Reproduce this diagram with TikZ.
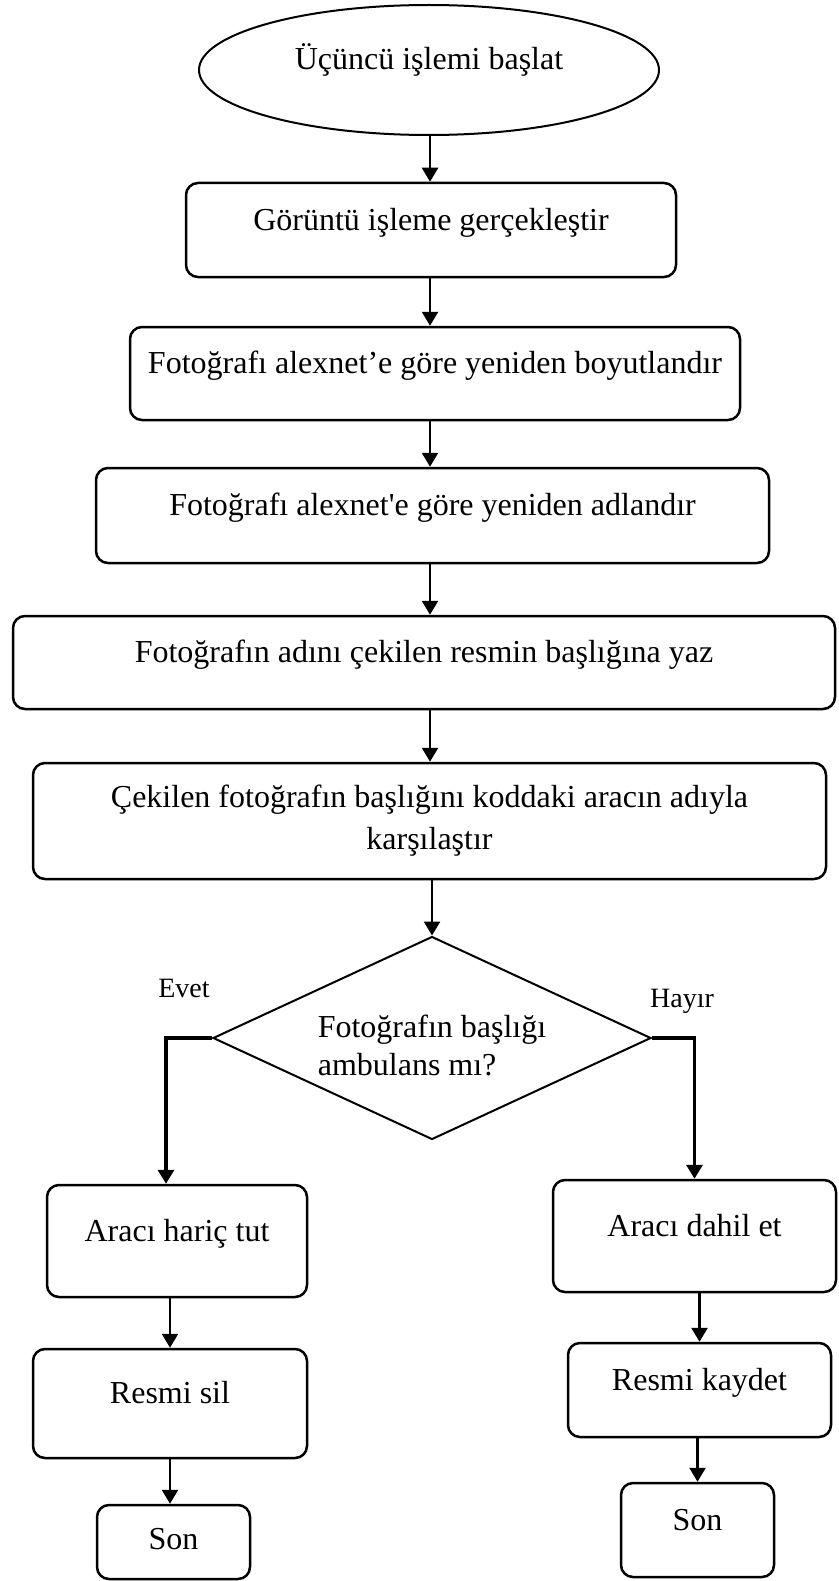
\documentclass[tikz,border=0pt]{standalone}
\usepackage{fontspec}
\setmainfont{Liberation Serif}
\usetikzlibrary{arrows.meta,shapes.geometric}

\begin{document}
\begin{tikzpicture}[x=1pt, y=-1pt, >={Triangle[width=16pt,length=14pt]},
  proc/.style={draw, line width=2.5pt, rounded corners=12pt, inner sep=0pt,
    font=\fontsize{32}{42}\selectfont, text height=24pt, text depth=24pt},
  arr/.style={->, line width=2.5pt},
  lbl/.style={font=\fontsize{28}{34}\selectfont, anchor=base}]
  \useasboundingbox (0,0) rectangle (838,1581);
  \coordinate (mid) at (430,0);
  % main column
  \node[proc, ellipse, line width=2pt, minimum width=460pt, minimum height=130pt] (start) at (429,70) {Üçüncü işlemi başlat};
  \node[proc, minimum width=490pt, minimum height=94pt] (img) at (431,230) {Görüntü işleme gerçekleştir};
  \node[proc, minimum width=610pt, minimum height=93pt] (resize) at (435,373.5) {Fotoğrafı alexnet’e göre yeniden boyutlandır};
  \node[proc, minimum width=673pt, minimum height=95pt] (rename) at (432.5,515.5) {Fotoğrafı alexnet\textquotesingle e göre yeniden adlandır};
  \node[proc, minimum width=822pt, minimum height=93pt] (title) at (424,662.5) {Fotoğrafın adını çekilen resmin başlığına yaz};
  \node[proc, text height=, text depth=, align=center, minimum width=793pt, minimum height=116pt] (cmp) at (429.5,821)
    {Çekilen fotoğrafın başlığını koddaki aracın adıyla\\karşılaştır};
  % decision
  \node[draw, diamond, aspect=2.16, line width=2pt, inner sep=0pt, align=left, font=\fontsize{32}{38}\selectfont,
    text height=74pt, text depth=0pt, minimum width=438pt, minimum height=203pt] (q) at (432,1038) {Fotoğrafın başlığı\\ambulans mı?};
  \node[lbl] (evet) at (184,997) {Evet};
  \node[lbl] (hayir) at (682,1007) {Hayır};
  % branches
  \node[proc, minimum width=260pt, minimum height=112pt] (no) at (177,1241) {Aracı hariç tut};
  \node[proc, minimum width=274pt, minimum height=109pt] (del) at (170,1403.5) {Resmi sil};
  \node[proc, text height=30pt, text depth=16pt, minimum width=153pt, minimum height=74pt] (endno) at (173.5,1542) {Son};
  \node[proc, minimum width=283pt, minimum height=112pt] (yes) at (694.5,1236) {Aracı dahil et};
  \node[proc, minimum width=263pt, minimum height=94pt] (save) at (699.5,1390) {Resmi kaydet};
  \node[proc, minimum width=153pt, minimum height=94pt] (endyes) at (697.5,1530) {Son};
  % connectors
  \draw[arr] (start.south -| mid) -- (img.north -| mid);
  \draw[arr] (img.south -| mid) -- (resize.north -| mid);
  \draw[arr] (resize.south -| mid) -- (rename.north -| mid);
  \draw[arr] (rename.south -| mid) -- (title.north -| mid);
  \draw[arr] (title.south -| mid) -- (cmp.north -| mid);
  \draw[arr] (cmp.south -| q) -- (q.north);
  \draw[arr, line width=3.5pt] (q.west) -| ([xshift=-11pt]no.north);
  \draw[arr, line width=3.5pt] (q.east) -| (yes.north);
  \draw[arr] (no.south -| del) -- (del.north);
  \draw[arr] (del.south) -- (del.south |- endno.north);
  \draw[arr] (yes.south -| save) -- (save.north);
  \draw[arr] (save.south -| endyes) -- (endyes.north);
\end{tikzpicture}
\end{document}
